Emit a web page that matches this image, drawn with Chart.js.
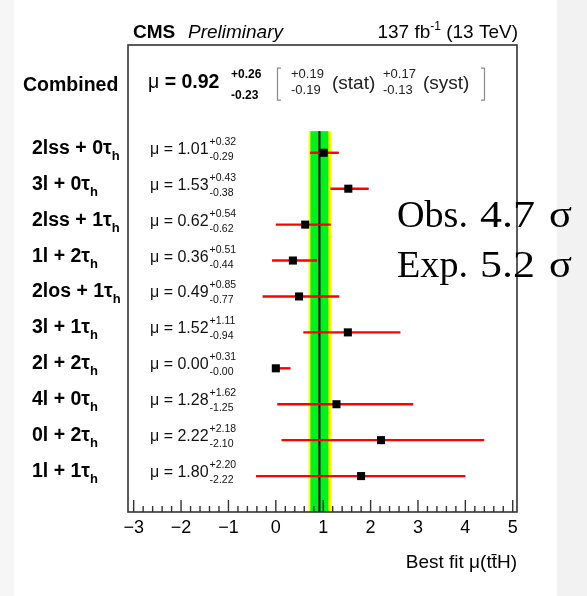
<!DOCTYPE html>
<html>
<head>
<meta charset="utf-8">
<script src="https://cdn.jsdelivr.net/npm/chart.js@4.4.1/dist/chart.umd.min.js"></script>
<style>
  html, body { margin: 0; padding: 0; background: #ffffff; }
  canvas { display: block; }
</style>
</head>
<body>
<canvas id="c" width="587" height="596" style="width:587px;height:596px"></canvas>
<script>
// ttH signal strength per final-state category (best fit and asymmetric errors)
const categories = ['2lss + 0τ_h', '3l + 0τ_h', '2lss + 1τ_h', '1l + 2τ_h', '2los + 1τ_h',
                    '3l + 1τ_h', '2l + 2τ_h', '4l + 0τ_h', '0l + 2τ_h', '1l + 1τ_h'];
const muBest  = [1.01, 1.53, 0.62, 0.36, 0.49, 1.52, 0.00, 1.28, 2.22, 1.80];
const errUp   = [0.32, 0.43, 0.54, 0.51, 0.85, 1.11, 0.31, 1.62, 2.18, 2.20];
const errDown = [0.29, 0.38, 0.62, 0.44, 0.77, 0.94, 0.00, 1.25, 2.10, 2.22];

// combined fit: total, stat and syst components
const combinedMu = 0.92;
const combinedTotal = [0.26, 0.23];   // up, down
const combinedStat  = [0.19, 0.19];
const combinedSyst  = [0.17, 0.13];

const xTicks = [-3, -2, -1, 0, 1, 2, 3, 4, 5];
const significance = [['Obs.', '4.7', 'σ'], ['Exp.', '5.2', 'σ']];

const SANS = '"Liberation Sans", Arial, Helvetica, sans-serif';
const SERIF = '"Liberation Serif", "Times New Roman", Times, serif';

const rowIndex = categories.map((_, i) => i + 1);
const combinedRow = -0.8;
const bandTop = 0.4;

function num(v) { return v.toFixed(2); }

function textAt(ctx, str, x, y, font, color) {
  ctx.font = font;
  ctx.fillStyle = color || '#000';
  ctx.fillText(str, x, y);
  return ctx.measureText(str).width;
}

// serif annotation: each word set into its own column box [left, width]
function drawWide(ctx, words, baseline) {
  const boxes = [[397, 71], [480, 55], [549, 23]];
  ctx.font = '38px ' + SERIF;
  ctx.fillStyle = '#000';
  words.forEach((wd, k) => {
    const [left, wBox] = boxes[k];
    const sx = Math.max(1, wBox / ctx.measureText(wd).width);
    ctx.save();
    ctx.translate(left, baseline);
    ctx.scale(sx, 1);
    ctx.fillText(wd, 0, 0);
    ctx.restore();
  });
}

const panel = {
  id: 'fitPanel',
  beforeDraw(chart) {
    const { ctx, width, height } = chart;
    ctx.save();
    ctx.fillStyle = '#f2f2f2';
    ctx.fillRect(0, 0, width, height);
    ctx.fillStyle = '#f6f6f6';
    ctx.fillRect(0, 0, 14, height);
    ctx.fillStyle = '#ffffff';
    ctx.fillRect(14, 0, 543, height);
    ctx.restore();
  },
  beforeDatasetsDraw(chart) {
    const { ctx, chartArea, scales: { x, y } } = chart;
    const top = y.getPixelForValue(bandTop);
    const bottom = chartArea.bottom;
    const band = (lo, hi, color) => {
      const a = x.getPixelForValue(lo), b = x.getPixelForValue(hi);
      ctx.fillStyle = color;
      ctx.fillRect(a, top, b - a, bottom - top);
    };
    ctx.save();
    band(combinedMu - combinedTotal[1], combinedMu + combinedTotal[0], '#ffff00');
    band(combinedMu - combinedStat[1], combinedMu + combinedStat[0], '#00f020');
    const xm = x.getPixelForValue(combinedMu);
    ctx.strokeStyle = '#000';
    ctx.lineWidth = 2;
    ctx.beginPath();
    ctx.moveTo(xm, top);
    ctx.lineTo(xm, bottom);
    ctx.stroke();
    ctx.restore();
  },
  afterDatasetsDraw(chart) {
    const { ctx, chartArea: ca, scales: { x, y } } = chart;
    ctx.save();
    // frame
    ctx.strokeStyle = '#333';
    ctx.lineWidth = 1.6;
    ctx.strokeRect(ca.left, ca.top, ca.right - ca.left, ca.bottom - ca.top);
    // inward ticks on the bottom axis
    ctx.lineWidth = 1.4;
    ctx.beginPath();
    xTicks.forEach((t, k) => {
      const px = x.getPixelForValue(t);
      ctx.moveTo(px, ca.bottom);
      ctx.lineTo(px, ca.bottom - 12);
      if (k < xTicks.length - 1) {
        const step = (xTicks[k + 1] - t) / 5;
        for (let m = 1; m < 5; m++) {
          const pm = x.getPixelForValue(t + m * step);
          ctx.moveTo(pm, ca.bottom);
          ctx.lineTo(pm, ca.bottom - 6);
        }
      }
    });
    ctx.stroke();

    ctx.textBaseline = 'alphabetic';
    ctx.textAlign = 'left';

    // header
    textAt(ctx, 'CMS', 133, 38, 'bold 19px ' + SANS);
    textAt(ctx, 'Preliminary', 188, 38, 'italic 19px ' + SANS);
    {
      const parts1 = '137 fb', sup = '-1', parts2 = ' (13 TeV)';
      ctx.font = '19px ' + SANS; const w1 = ctx.measureText(parts1).width, w3 = ctx.measureText(parts2).width;
      ctx.font = '12px ' + SANS; const w2 = ctx.measureText(sup).width;
      let x0 = ca.right + 1 - (w1 + w2 + w3);
      x0 += textAt(ctx, parts1, x0, 38, '19px ' + SANS);
      x0 += textAt(ctx, sup, x0, 30, '12px ' + SANS);
      textAt(ctx, parts2, x0, 38, '19px ' + SANS);
    }

    // combined result line
    const yc = y.getPixelForValue(combinedRow);
    textAt(ctx, 'Combined', 23, yc + 3, 'bold 19.5px ' + SANS);
    let xc = 148;
    xc += textAt(ctx, 'μ', xc, yc, '19.5px ' + SANS);
    xc += textAt(ctx, ' = ' + num(combinedMu), xc, yc, 'bold 19.5px ' + SANS);
    textAt(ctx, '+' + num(combinedTotal[0]), 231, yc - 10, 'bold 12px ' + SANS);
    textAt(ctx, '-' + num(combinedTotal[1]), 231, yc + 11, 'bold 12px ' + SANS);
    // brackets
    ctx.strokeStyle = '#8a8a8a';
    ctx.lineWidth = 1.2;
    ctx.beginPath();
    ctx.moveTo(281, yc - 20); ctx.lineTo(277.5, yc - 20); ctx.lineTo(277.5, yc + 12); ctx.lineTo(281, yc + 12);
    ctx.moveTo(481, yc - 20); ctx.lineTo(484.5, yc - 20); ctx.lineTo(484.5, yc + 12); ctx.lineTo(481, yc + 12);
    ctx.stroke();
    textAt(ctx, '+' + num(combinedStat[0]), 291, yc - 10, '13px ' + SANS, '#222');
    textAt(ctx, '-' + num(combinedStat[1]), 291, yc + 6, '13px ' + SANS, '#222');
    textAt(ctx, '(stat)', 332, yc + 1, '19px ' + SANS, '#222');
    textAt(ctx, '+' + num(combinedSyst[0]), 383, yc - 10, '13px ' + SANS, '#222');
    textAt(ctx, '-' + num(combinedSyst[1]), 383, yc + 6, '13px ' + SANS, '#222');
    textAt(ctx, '(syst)', 423, yc + 1, '19px ' + SANS, '#222');

    // per-category labels and values
    categories.forEach((name, i) => {
      const py = y.getPixelForValue(rowIndex[i]);
      const [main, sub] = name.split('_');
      const wm = textAt(ctx, main, 32, py + 1, 'bold 19.5px ' + SANS);
      textAt(ctx, sub, 32 + wm, py + 7, 'bold 13px ' + SANS);
      const wv = textAt(ctx, 'μ = ' + num(muBest[i]), 150, py + 1, '16px ' + SANS, '#111');
      textAt(ctx, '+' + num(errUp[i]), 151 + wv, py - 8, '10.5px ' + SANS, '#111');
      textAt(ctx, '-' + num(errDown[i]), 151 + wv, py + 7, '10.5px ' + SANS, '#111');
    });

    // axis title
    ctx.textAlign = 'right';
    textAt(ctx, 'Best fit μ(tt\u0304H)', ca.right, 568, '19px ' + SANS);

    // significance overlay
    ctx.textAlign = 'left';
    drawWide(ctx, significance[0], 227);
    drawWide(ctx, significance[1], 277);
    ctx.restore();
  }
};

const errorBarSets = categories.map((_, i) => ({
  data: [{ x: muBest[i] - errDown[i], y: rowIndex[i] }, { x: muBest[i] + errUp[i], y: rowIndex[i] }],
  showLine: true,
  borderColor: '#ff0000',
  borderWidth: 2.4,
  pointRadius: 0,
  order: 2
}));

const markerSet = {
  data: muBest.map((m, i) => ({ x: m, y: rowIndex[i] })),
  pointStyle: 'rect',
  pointRadius: 5.7,
  backgroundColor: '#000',
  borderWidth: 0,
  showLine: false,
  order: 1
};

new Chart(document.getElementById('c'), {
  type: 'scatter',
  data: { datasets: [...errorBarSets, markerSet] },
  options: {
    responsive: false,
    animation: false,
    devicePixelRatio: 1,
    layout: { padding: { left: 128, right: 70, top: 45, bottom: 0 } },
    plugins: { legend: { display: false }, tooltip: { enabled: false } },
    scales: {
      x: {
        type: 'linear',
        min: -3.12,
        max: 5.09,
        afterBuildTicks: s => { s.ticks = xTicks.map(v => ({ value: v })); },
        afterFit: s => { s.height = 84; },
        grid: { display: false, drawTicks: false },
        border: { display: false },
        ticks: {
          autoSkip: false,
          maxRotation: 0,
          padding: 5,
          color: '#000',
          font: { family: SANS, size: 18 },
          callback: v => (v < 0 ? '\u2212' + Math.abs(v) : String(v))
        }
      },
      y: {
        type: 'linear',
        min: -2,
        max: 11,
        reverse: true,
        display: false
      }
    }
  },
  plugins: [panel]
});
</script>
</body>
</html>
